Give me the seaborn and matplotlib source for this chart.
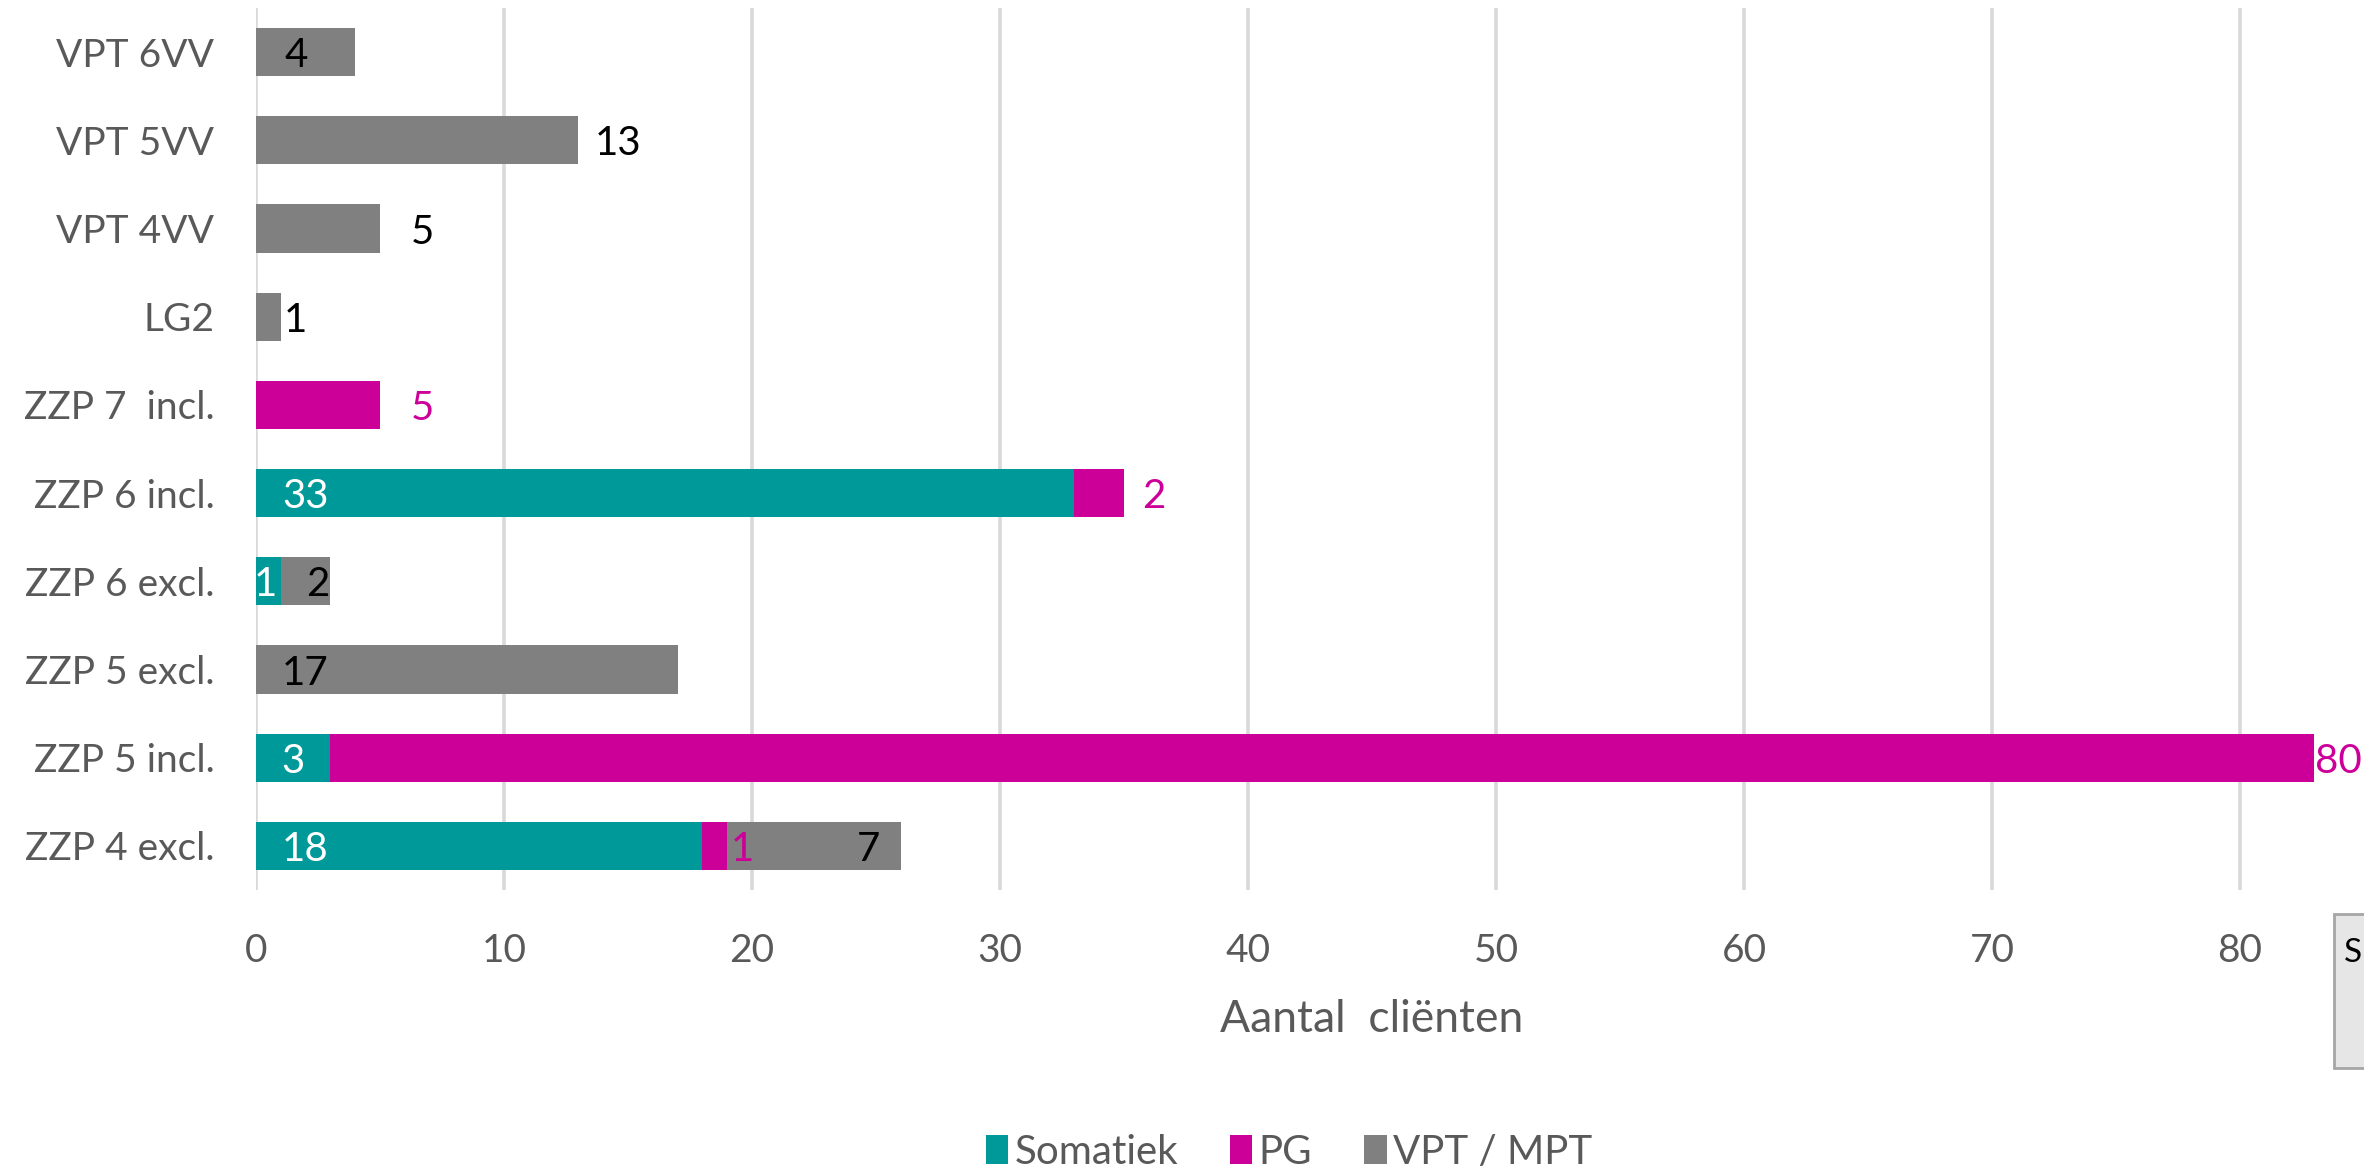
import matplotlib
matplotlib.use("Agg")
import matplotlib.pyplot as plt
from matplotlib.patches import Rectangle, Patch
import seaborn as sns
import pandas as pd
import numpy as np

# ---------------- data ----------------
categories = ["VPT 6VV", "VPT 5VV", "VPT 4VV", "LG2", "ZZP 7  incl.",
              "ZZP 6 incl.", "ZZP 6 excl.", "ZZP 5 excl.", "ZZP 5 incl.", "ZZP 4 excl."]
somatiek = [0, 0, 0, 0, 0, 33, 1, 0, 3, 18]
pg       = [0, 0, 0, 0, 5, 2, 0, 0, 80, 1]
vpt_mpt  = [4, 13, 5, 1, 0, 0, 2, 17, 0, 7]
series_names = ["Somatiek", "PG", "VPT / MPT"]
x_ticks = [0, 10, 20, 30, 40, 50, 60, 70, 80]
x_label = "Aantal  cliënten"

# ---------------- style ----------------
C_SOM = "#009999"
C_PG = "#CC0099"
C_VPT = "#808080"
TXT = "#595959"
GRID = "#D9D9D9"
label_colors = {"Somatiek": "white", "PG": C_PG, "VPT / MPT": "black"}
# label placement per (series, category): (anchor, offset) ; anchor 'base' = segment start, 'end' = segment end
label_layout = {
    ("VPT / MPT", "VPT 6VV"): ("base", 1.6),
    ("VPT / MPT", "VPT 5VV"): ("end", 1.6),
    ("VPT / MPT", "VPT 4VV"): ("end", 1.7),
    ("VPT / MPT", "LG2"): ("end", 0.6),
    ("PG", "ZZP 7  incl."): ("end", 1.7),
    ("Somatiek", "ZZP 6 incl."): ("base", 2.0),
    ("PG", "ZZP 6 incl."): ("end", 1.2),
    ("Somatiek", "ZZP 6 excl."): ("base", 0.4),
    ("VPT / MPT", "ZZP 6 excl."): ("base", 1.5),
    ("VPT / MPT", "ZZP 5 excl."): ("base", 2.0),
    ("Somatiek", "ZZP 5 incl."): ("base", 1.5),
    ("PG", "ZZP 5 incl."): ("end", 0.95),
    ("Somatiek", "ZZP 4 excl."): ("base", 2.0),
    ("PG", "ZZP 4 excl."): ("base", 1.6),
    ("VPT / MPT", "ZZP 4 excl."): ("end", -1.3),
}

sns.set_theme(style="white")
plt.rcParams["font.family"] = ["Lato", "DejaVu Sans"]

W, H = 2364, 1173
fig = plt.figure(figsize=(W / 100, H / 100), dpi=100)
ax_left = 256 / W
ax_bottom = 1 - 890 / H
ax_top = 1 - 8 / H
ax = fig.add_axes([ax_left, ax_bottom, 1 - ax_left, ax_top - ax_bottom])

df = pd.DataFrame({"cat": categories, "Somatiek": somatiek, "PG": pg, "VPT / MPT": vpt_mpt})
df["c1"] = df["Somatiek"]
df["c2"] = df["Somatiek"] + df["PG"]
df["c3"] = df["c2"] + df["VPT / MPT"]

bw = 0.545
sns.barplot(data=df, y="cat", x="c3", color=C_VPT, width=bw, ax=ax, orient="y",
            saturation=1, linewidth=0, order=categories, errorbar=None)
sns.barplot(data=df, y="cat", x="c2", color=C_PG, width=bw, ax=ax, orient="y",
            saturation=1, linewidth=0, order=categories, errorbar=None)
sns.barplot(data=df, y="cat", x="c1", color=C_SOM, width=bw, ax=ax, orient="y",
            saturation=1, linewidth=0, order=categories, errorbar=None)

ax.set_xlim(0, (W - 256) / 24.8)
ax.set_ylim(9.5, -0.5)
ax.set_xticks(x_ticks)
ax.set_xticklabels([str(t) for t in x_ticks])
ax.set_axisbelow(True)
ax.grid(axis="x", color=GRID, linewidth=2.6)
ax.grid(axis="y", visible=False)
for s in ax.spines.values():
    s.set_visible(False)
ax.tick_params(axis="both", length=0, labelsize=28, labelcolor=TXT)
ax.tick_params(axis="x", pad=31)
ax.tick_params(axis="y", pad=30)
ax.set_ylabel("")
ax.set_xlabel(x_label, fontsize=32, color=TXT)
ax.xaxis.set_label_coords(0.529, -0.1463)
ax.xaxis.label.set_va("center")

# data labels
starts = {"Somatiek": df["c1"] * 0, "PG": df["c1"], "VPT / MPT": df["c2"]}
ends = {"Somatiek": df["c1"], "PG": df["c2"], "VPT / MPT": df["c3"]}
for i, cat in enumerate(categories):
    for s in series_names:
        val = df.loc[i, s]
        if val == 0:
            continue
        anchor, off = label_layout[(s, cat)]
        ref = starts[s][i] if anchor == "base" else ends[s][i]
        ax.text(ref + off, i + 0.04, str(val), color=label_colors[s], fontsize=29,
                ha="center", va="center", clip_on=False)

# legend
handles = [Patch(facecolor=c, edgecolor="none") for c in (C_SOM, C_PG, C_VPT)]
leg = fig.legend(handles, series_names, loc="center", bbox_to_anchor=(1289 / W, 1 - 1152 / H),
                 ncol=3, frameon=False, fontsize=29, handlelength=0.55, handleheight=0.7,
                 handletextpad=0.15, columnspacing=1.3, labelcolor=TXT)

# clipped box at the bottom right edge
fig.patches.append(Rectangle((2334 / W, 1 - 1068 / H), 0.05, (1068 - 914) / H,
                             transform=fig.transFigure, facecolor="#E6E6E6",
                             edgecolor="#A6A6A6", linewidth=2))
fig.text(2344 / W, 1 - 953 / H, "S", fontsize=24, color="black", va="center", ha="left")

fig.savefig("out.png", dpi=100, facecolor="white")
